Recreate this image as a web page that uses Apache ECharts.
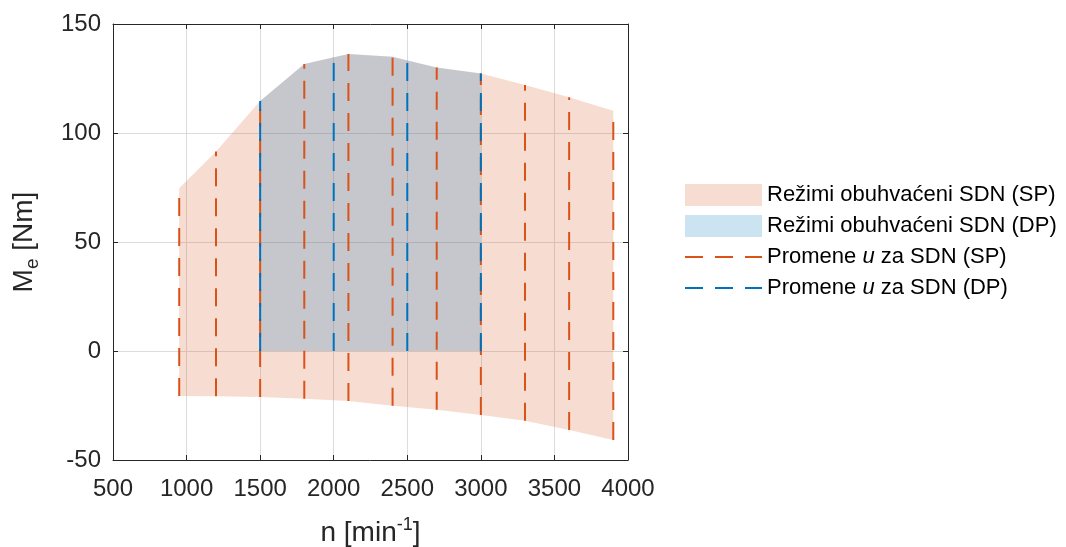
<!DOCTYPE html>
<html><head><meta charset="utf-8">
<script src="https://cdn.jsdelivr.net/npm/echarts@6/dist/echarts.min.js"></script>
<style>html,body{margin:0;padding:0;background:#fff}#c{width:1066px;height:547px}</style>
</head><body><div id="c"></div>
<script>
// Speed samples for SP operating regime (rpm) and torque bounds (Nm)
const nSP = [950, 1200, 1500, 1800, 2100, 2400, 2700, 3000, 3300, 3600, 3900];
const upperSP = [74.6, 91.5, 114.7, 131.7, 136.2, 135.0, 130.0, 127.3, 122.0, 116.4, 110.2];
const lowerSP = [-20.6, -20.8, -21.1, -21.9, -22.9, -25.1, -26.9, -29.4, -32.0, -36.2, -40.8];
// DP region boundary (top edge), bottom at 0
const nDPedge = [1500, 1800, 2000, 2100, 2400, 2500, 2700, 3000];
const upperDPedge = [114.7, 131.7, 134.7, 136.2, 135.0, 133.3, 130.0, 127.3];
const lowerDPedge = [0, 0, 0, 0, 0, 0, 0, 0];
// DP variation lines
const nDP = [1500, 2000, 2500, 3000];
const upperDP = [114.7, 134.5, 133.3, 127.3];
const lowerDP = [0, 0, 0, 0];
// axis ticks
const xTickMin = 500, xTickMax = 4000, xTickStep = 500;
const yTickMin = -50, yTickMax = 150, yTickStep = 50;

const nameSPfill = 'Režimi obuhvaćeni SDN (SP)';
const nameDPfill = 'Režimi obuhvaćeni SDN (DP)';
const nameSPline = 'Promene u za SDN (SP)';
const nameDPline = 'Promene u za SDN (DP)';

const ORANGE = '#D95319', BLUE = '#0072BD';
const fillSP = 'rgba(217,83,25,0.2)', fillDP = 'rgba(0,114,189,0.2)';
const FONT = "'Liberation Sans', Arial, Helvetica, sans-serif";
const TXT = '#262626';

function polygonSeries(name, xs, lo, hi, color, z) {
  return {
    type: 'custom', name: name, z: z, silent: true, clip: true,
    data: xs.map((x, i) => [x, lo[i], hi[i]]),
    encode: { x: 0, y: [1, 2] },
    itemStyle: { color: color },
    renderItem: function (params, api) {
      if (params.dataIndex !== 0) return null;
      const pts = [];
      for (let i = 0; i < xs.length; i++) pts.push(api.coord([xs[i], hi[i]]));
      for (let i = xs.length - 1; i >= 0; i--) pts.push(api.coord([xs[i], lo[i]]));
      return { type: 'polygon', shape: { points: pts }, style: { fill: color } };
    }
  };
}
function vLines(name, xs, lo, hi, color, z) {
  return xs.map((x, i) => ({
    type: 'line', name: name, z: z, silent: true, symbol: 'none',
    data: [[x, lo[i]], [x, hi[i]]],
    lineStyle: { color: color, width: 2, type: [18, 12] },
    itemStyle: { color: color }
  }));
}

const series = [].concat(
  [polygonSeries(nameSPfill, nSP, lowerSP, upperSP, fillSP, 1)],
  [polygonSeries(nameDPfill, nDPedge, lowerDPedge, upperDPedge, fillDP, 2)],
  vLines(nameSPline, nSP, lowerSP, upperSP, ORANGE, 3),
  vLines(nameDPline, nDP, lowerDP, upperDP, BLUE, 4)
);

const axisCommon = {
  axisLine: { show: true, onZero: false, lineStyle: { color: TXT, width: 1 } },
  axisTick: { show: true, inside: true, length: 5, lineStyle: { color: TXT } },
};
const plain = v => String(v);

const chart = echarts.init(document.getElementById('c'), null, { renderer: 'canvas' });
chart.setOption({
  animation: false,
  backgroundColor: '#fff',
  textStyle: { fontFamily: FONT },
  grid: { left: 113, right: 438, top: 24, bottom: 87, containLabel: false, outerBoundsMode: 'none' },
  xAxis: [
    Object.assign({
      type: 'value', min: xTickMin, max: xTickMax, interval: xTickStep, position: 'bottom',
      axisLabel: { fontSize: 24, color: TXT, margin: 17, fontFamily: FONT, formatter: plain },
      splitLine: { show: true, lineStyle: { color: '#dcdcdc', width: 1 } },
      name: '{a|n [min}{sup|-1}{a|]}', nameLocation: 'middle', nameGap: 56,
      nameTextStyle: { rich: {
        a: { fontSize: 28, color: TXT, fontFamily: FONT, lineHeight: 34 },
        sup: { fontSize: 18, color: TXT, fontFamily: FONT, verticalAlign: 'top', lineHeight: 34 }
      } }
    }, axisCommon),
    Object.assign({
      type: 'value', min: xTickMin, max: xTickMax, interval: xTickStep, position: 'top',
      axisLabel: { show: false }, splitLine: { show: false }
    }, axisCommon)
  ],
  yAxis: [
    Object.assign({
      type: 'value', min: yTickMin, max: yTickMax, interval: yTickStep, position: 'left',
      axisLabel: { fontSize: 24, color: TXT, margin: 12, fontFamily: FONT, formatter: plain },
      splitLine: { show: true, lineStyle: { color: '#dcdcdc', width: 1 } },
      name: '{a|M}{sub|e}{a| [Nm]}', nameLocation: 'middle', nameGap: 71, nameRotate: 90,
      nameTextStyle: { rich: {
        a: { fontSize: 28, color: TXT, fontFamily: FONT, lineHeight: 36 },
        sub: { fontSize: 19, color: TXT, fontFamily: FONT, verticalAlign: 'bottom', lineHeight: 36 }
      } }
    }, axisCommon),
    Object.assign({
      type: 'value', min: yTickMin, max: yTickMax, interval: yTickStep, position: 'right',
      axisLabel: { show: false }, splitLine: { show: false }
    }, axisCommon)
  ],
  legend: {
    orient: 'vertical', left: 684, top: 184, padding: 0,
    itemWidth: 77, itemHeight: 22, itemGap: 9,
    textStyle: { fontSize: 22, color: '#000', fontFamily: FONT, lineHeight: 22,
      rich: { i: { fontSize: 22, fontStyle: 'italic', color: '#000', fontFamily: FONT } } },
    formatter: function (name) { return name.replace(' u ', ' {i|u} '); },
    data: [
      { name: nameSPfill, icon: 'rect', itemStyle: { color: fillSP } },
      { name: nameDPfill, icon: 'rect', itemStyle: { color: fillDP } },
      { name: nameSPline, itemStyle: { opacity: 0 } },
      { name: nameDPline, itemStyle: { opacity: 0 } }
    ]
  },
  series: series
});
</script></body></html>
